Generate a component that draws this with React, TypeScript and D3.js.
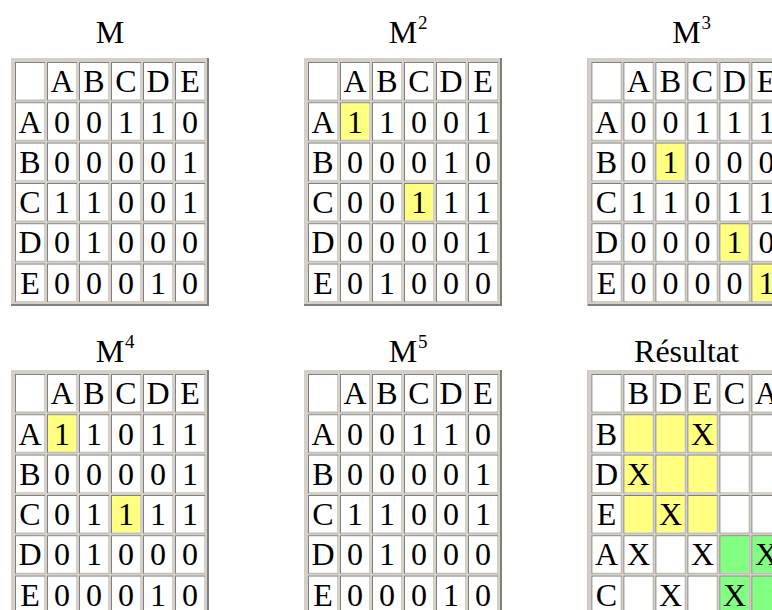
import * as d3 from "d3";

const labels = ["A", "B", "C", "D", "E"];

const m1 = [
  [0, 0, 1, 1, 0],
  [0, 0, 0, 0, 1],
  [1, 1, 0, 0, 1],
  [0, 1, 0, 0, 0],
  [0, 0, 0, 1, 0],
];
const m2 = [
  [1, 1, 0, 0, 1],
  [0, 0, 0, 1, 0],
  [0, 0, 1, 1, 1],
  [0, 0, 0, 0, 1],
  [0, 1, 0, 0, 0],
];
const m3 = [
  [0, 0, 1, 1, 1],
  [0, 1, 0, 0, 0],
  [1, 1, 0, 1, 1],
  [0, 0, 0, 1, 0],
  [0, 0, 0, 0, 1],
];
const m4 = [
  [1, 1, 0, 1, 1],
  [0, 0, 0, 0, 1],
  [0, 1, 1, 1, 1],
  [0, 1, 0, 0, 0],
  [0, 0, 0, 1, 0],
];
const m5 = [
  [0, 0, 1, 1, 0],
  [0, 0, 0, 0, 1],
  [1, 1, 0, 0, 1],
  [0, 1, 0, 0, 0],
  [0, 0, 0, 1, 0],
];

// diagonal cells marked in yellow
const m2Marked = [0, 2];
const m3Marked = [1, 3, 4];
const m4Marked = [0, 2];

const resultCols = ["B", "D", "E", "C", "A"];
const resultRows = ["B", "D", "E", "A", "C"];
const resultMarks = [
  ["", "", "X", "", ""],
  ["X", "", "", "", ""],
  ["", "X", "", "", ""],
  ["X", "", "X", "", "X"],
  ["", "X", "", "X", ""],
];
const resultGroups = [
  ["y", "y", "y", "", ""],
  ["y", "y", "y", "", ""],
  ["y", "y", "y", "", ""],
  ["", "", "", "g", "g"],
  ["", "", "", "g", "g"],
];

const W = 772;
const H = 610;
const TW = 198;
const TH = 248;
const FONT = "'Liberation Serif', 'Times New Roman', serif";
const DARK = "#808080";
const LIGHT = "#d4d0c8";
const fillColor: Record<string, string> = { y: "#ffff80", g: "#80ff80", "": "#ffffff" };

function Table({ x0, y0, cols, rows, cells, fills }) {
  const colKeys = ["", ...cols];
  const rowKeys = ["", ...rows];
  const x = d3
    .scaleBand()
    .domain(colKeys)
    .range([x0 + 2, x0 + TW - 2])
    .paddingInner(0.0625)
    .paddingOuter(0.0625);
  const y = d3
    .scaleBand()
    .domain(rowKeys)
    .range([y0 + 2, y0 + TH - 2])
    .paddingInner(0.05)
    .paddingOuter(0.05);
  const bw = x.bandwidth();
  const bh = y.bandwidth();

  const cellList = [];
  rowKeys.forEach((r, i) => {
    colKeys.forEach((c, j) => {
      let text = "";
      let fill = "#ffffff";
      if (i === 0 && j > 0) text = c;
      else if (j === 0 && i > 0) text = r;
      else if (i > 0 && j > 0) {
        text = String(cells[i - 1][j - 1]);
        fill = fillColor[fills[i - 1][j - 1]];
      }
      cellList.push({ key: `${i}-${j}`, cx: x(c), cy: y(r), text, fill });
    });
  });

  return (
    <g>
      <rect x={x0} y={y0} width={TW} height={TH} fill={DARK} />
      <rect x={x0} y={y0} width={TW - 2} height={TH - 2} fill={LIGHT} />
      {cellList.map((d) => (
        <g key={d.key}>
          <rect x={d.cx} y={d.cy} width={bw} height={bh} fill={DARK} />
          <rect x={d.cx + 1} y={d.cy + 1} width={bw - 1} height={bh - 1} fill={LIGHT} />
          <rect x={d.cx + 1} y={d.cy + 1} width={bw - 2} height={bh - 2} fill={d.fill} />
          <text
            x={d.cx + bw / 2}
            y={d.cy + bh / 2 + 11}
            textAnchor="middle"
            fontFamily={FONT}
            fontSize={32}
            fill="#000"
          >
            {d.text}
          </text>
        </g>
      ))}
    </g>
  );
}

function Title({ cx, y, main, sup }) {
  return (
    <g fontFamily={FONT} fill="#000">
      <text x={cx} y={y} textAnchor="middle" fontSize={32}>
        {main}
      </text>
      {sup && (
        <text x={cx + 15} y={y - 14} fontSize={19}>
          {sup}
        </text>
      )}
    </g>
  );
}

const diagFills = (marked: number[]) =>
  labels.map((_, i) => labels.map((_, j) => (i === j && marked.includes(i) ? "y" : "")));

export default function App() {
  const xs = [11, 304, 587.5];
  const ys = [58, 370];
  const titleY = [43, 362];
  const mats = [
    { main: "M", sup: "", cells: m1, fills: diagFills([]) },
    { main: "M", sup: "2", cells: m2, fills: diagFills(m2Marked) },
    { main: "M", sup: "3", cells: m3, fills: diagFills(m3Marked) },
    { main: "M", sup: "4", cells: m4, fills: diagFills(m4Marked) },
    { main: "M", sup: "5", cells: m5, fills: diagFills([]) },
  ];

  return (
    <svg
      width={W}
      height={H}
      style={{ position: "absolute", left: 0, top: 0, background: "#fff" }}
    >
      <rect width={W} height={H} fill="#fff" />
      {mats.map((m, k) => {
        const col = k % 3;
        const row = Math.floor(k / 3);
        return (
          <g key={k}>
            <Title cx={xs[col] + TW / 2} y={titleY[row]} main={m.main} sup={m.sup} />
            <Table
              x0={xs[col]}
              y0={ys[row]}
              cols={labels}
              rows={labels}
              cells={m.cells}
              fills={m.fills}
            />
          </g>
        );
      })}
      <Title cx={xs[2] + TW / 2} y={titleY[1]} main="Résultat" sup="" />
      <Table
        x0={xs[2]}
        y0={ys[1]}
        cols={resultCols}
        rows={resultRows}
        cells={resultMarks}
        fills={resultGroups}
      />
    </svg>
  );
}
